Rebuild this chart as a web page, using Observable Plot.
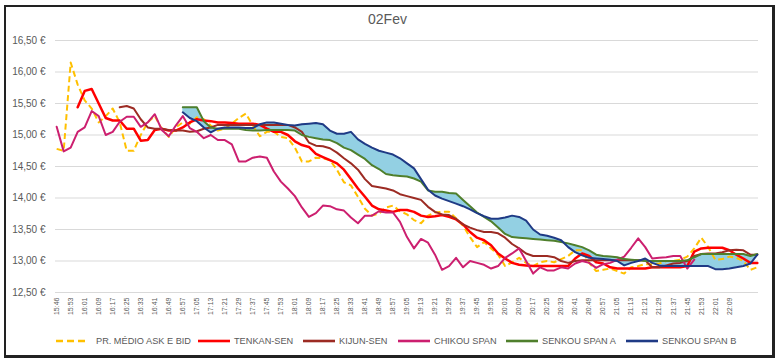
<!DOCTYPE html>
<html>
<head>
<meta charset="utf-8">
<script src="https://cdn.jsdelivr.net/npm/d3@7"></script>
<script src="https://cdn.jsdelivr.net/npm/@observablehq/plot@0.6"></script>
<style>
  body { margin: 0; background: #fff; font-family: "Liberation Sans", Arial, sans-serif; }
  #wrap { position: relative; width: 781px; height: 362px; overflow: hidden; background: #fff; }
  #frame { position: absolute; left: 4px; top: 5px; width: 766px; height: 348px;
           border: 2px solid #222; border-right-width: 3px; border-bottom-width: 3px; }
  #title { position: absolute; top: 11px; left: 0; width: 775px; text-align: center;
           font-size: 14px; color: #595959; }
  #chart { position: absolute; left: 0; top: 0; }
  .leg { position: absolute; top: 335px; height: 12px; display: flex; align-items: center;
         font-size: 9.2px; color: #595959; white-space: nowrap; }
  .leg svg { margin-right: 3px; }
</style>
</head>
<body>
<div id="wrap">
  <div id="frame"></div>
  <div id="title">02Fev</div>
  <div id="chart"></div>
  <div id="legend"></div>
</div>
<script>
// ---- data (sampled every 3 categories) ----
const timeLabels = ["15:46","15:53","16:01","16:09","16:17","16:25","16:33","16:41","16:49","16:57",
  "17:05","17:13","17:21","17:29","17:37","17:45","17:53","18:01","18:09","18:17",
  "18:25","18:33","18:41","18:49","18:57","19:05","19:13","19:21","19:29","19:37",
  "19:45","19:53","20:01","20:09","20:17","20:25","20:33","20:41","20:49","20:57",
  "21:05","21:13","21:21","21:29","21:37","21:45","21:53","22:01","22:09"];
const labelEvery = 6;        // one time label every 6 categories
const sampleEvery = 3;       // values below read every 3 categories
const yTicks = [12.5, 13, 13.5, 14, 14.5, 15, 15.5, 16, 16.5];

const price = [14.78,14.75,16.15,15.8,15.55,15.42,15.2,15.3,15.42,15.2,
  14.75,14.75,15.0,15.2,15.3,15.1,14.97,15.12,15.2,15.18,
  15.28,15.25,15.15,15.07,15.1,15.18,15.27,15.34,15.15,14.98,
  15.05,15.05,14.97,14.95,14.8,14.58,14.58,14.64,14.63,14.6,
  14.45,14.25,14.2,14.02,13.83,13.72,13.75,13.85,13.88,13.79,
  13.74,13.65,13.6,13.72,13.77,13.78,13.78,13.68,13.56,13.38,
  13.22,13.3,13.2,13.1,12.92,12.98,13.05,12.97,12.92,12.98,
  13.0,12.98,13.03,13.08,13.17,13.17,12.97,12.84,12.86,12.88,
  12.84,12.8,12.9,12.92,12.95,12.95,12.96,13.0,13.0,13.02,
  13.07,13.2,13.37,13.22,13.02,13.03,13.07,13.05,13.0,12.86,12.9];

const tenkan = [null,null,null,15.44,15.7,15.73,15.5,15.27,15.23,15.23,
  15.1,15.1,14.91,14.92,15.08,15.1,15.07,15.07,15.12,15.2,
  15.25,15.23,15.22,15.2,15.2,15.19,15.18,15.18,15.18,15.16,
  15.1,15.05,15.05,15.0,14.9,14.84,14.81,14.7,14.65,14.6,
  14.55,14.45,14.3,14.15,14.02,13.88,13.82,13.8,13.78,13.81,
  13.81,13.78,13.72,13.7,13.71,13.73,13.7,13.66,13.58,13.46,
  13.37,13.33,13.25,13.12,13.04,12.97,12.94,12.93,12.92,12.92,
  12.92,12.92,12.92,12.92,13.04,13.12,13.08,12.98,12.96,12.9,
  12.88,12.88,12.88,12.88,12.88,12.9,12.9,12.9,12.9,12.9,
  12.92,13.15,13.2,13.21,13.21,13.21,13.17,13.1,13.04,12.97,12.97];

const kijun = [null,null,null,null,null,null,null,null,null,15.44,
  15.46,15.42,15.25,15.12,15.1,15.1,15.08,15.07,15.07,15.05,
  15.06,15.1,15.12,15.16,15.16,15.16,15.16,15.16,15.16,15.16,
  15.16,15.16,15.16,15.16,15.12,15.05,14.88,14.83,14.82,14.79,
  14.72,14.63,14.55,14.45,14.3,14.19,14.17,14.15,14.12,14.06,
  14.03,14.0,13.97,13.86,13.78,13.74,13.73,13.67,13.58,13.53,
  13.49,13.46,13.46,13.44,13.37,13.27,13.2,13.12,13.08,13.08,
  13.08,13.06,13.0,12.97,13.0,13.01,13.01,13.01,13.01,13.01,
  13.01,13.01,13.01,13.01,13.01,12.9,12.9,12.93,12.96,12.97,
  13.0,13.08,13.11,13.12,13.12,13.14,13.17,13.18,13.17,13.1,13.1];

const chikou = [15.13,14.74,14.8,15.05,15.12,15.38,15.3,15.0,15.05,15.21,
  15.29,15.29,15.13,15.2,15.33,15.08,14.98,15.15,15.3,15.11,
  15.05,14.95,15.0,14.92,14.92,14.85,14.58,14.58,14.64,14.66,
  14.64,14.42,14.26,14.15,14.03,13.85,13.7,13.76,13.88,13.87,
  13.82,13.8,13.69,13.6,13.72,13.72,13.79,13.77,13.77,13.62,
  13.38,13.2,13.35,13.29,13.1,12.86,12.92,13.05,12.9,13.0,
  12.97,12.94,12.88,12.92,13.05,13.12,13.2,13.0,12.8,12.9,
  12.85,12.85,12.9,12.88,12.96,13.0,12.97,12.89,12.95,12.97,
  13.02,13.07,13.21,13.36,13.22,13.04,13.05,13.06,13.08,13.08,
  12.88,13.02,null,null,null,null,null,null,null,null,null];

const senkouA = [null,null,null,null,null,null,null,null,null,null,
  null,null,null,null,null,null,null,null,15.44,15.44,
  15.44,15.22,15.12,15.1,15.1,15.1,15.1,15.08,15.07,15.07,
  15.08,15.08,15.08,15.08,15.07,15.0,14.97,14.95,14.93,14.92,
  14.87,14.8,14.76,14.69,14.62,14.52,14.46,14.38,14.36,14.35,
  14.34,14.31,14.26,14.12,14.1,14.1,14.08,14.07,13.97,13.87,
  13.77,13.7,13.63,13.53,13.43,13.38,13.37,13.36,13.35,13.34,
  13.33,13.32,13.3,13.28,13.25,13.22,13.17,13.1,13.08,13.07,
  13.06,13.03,13.02,13.01,13.0,13.0,13.0,13.0,13.0,13.0,
  13.01,13.06,13.11,13.11,13.11,13.11,13.11,13.11,13.11,13.08,13.11];

const senkouB = [null,null,null,null,null,null,null,null,null,null,
  null,null,null,null,null,null,null,null,15.36,15.27,
  15.22,15.12,15.04,15.1,15.12,15.12,15.12,15.11,15.11,15.17,
  15.2,15.2,15.18,15.16,15.15,15.17,15.18,15.19,15.17,15.07,
  15.02,15.02,15.05,14.93,14.86,14.8,14.75,14.72,14.69,14.63,
  14.55,14.47,14.3,14.13,14.04,13.99,13.95,13.91,13.87,13.82,
  13.76,13.71,13.67,13.67,13.69,13.72,13.7,13.64,13.5,13.42,
  13.4,13.37,13.33,13.22,13.14,13.09,13.05,13.04,13.03,13.02,
  13.0,12.93,12.97,13.0,13.04,12.97,12.93,12.92,12.92,12.92,
  12.92,12.92,12.92,12.92,12.87,12.87,12.88,12.9,12.92,12.96,13.1];

const series = [
  {name: "PR. MÉDIO ASK E BID", values: price,   color: "#FFC000", width: 2,   dash: "6,3.5"},
  {name: "TENKAN-SEN",          values: tenkan,  color: "#FF0000", width: 2.5, dash: null},
  {name: "KIJUN-SEN",           values: kijun,   color: "#9C2B23", width: 2,   dash: null},
  {name: "CHIKOU SPAN",         values: chikou,  color: "#CC1F6F", width: 2,   dash: null},
  {name: "SENKOU SPAN A",       values: senkouA, color: "#4F7F2C", width: 2,   dash: null},
  {name: "SENKOU SPAN B",       values: senkouB, color: "#1F3A85", width: 2,   dash: null}
];
const cloudFill = "#93D0E3";

// ---- build tables ----
const rows = price.map((_, k) => ({
  i: k * sampleEvery, price: price[k], tenkan: tenkan[k], kijun: kijun[k],
  chikou: chikou[k], a: senkouA[k], b: senkouB[k]
}));
const cloud = rows.filter(d => d.a != null && d.b != null);
const ticks = timeLabels.map((t, j) => ({i: j * labelEvery, t}));
const fmtY = v => v.toFixed(2).replace(".", ",") + " €";

const lineMarks = series.map(s => Plot.line(
  s.values.map((v, k) => ({i: k * sampleEvery, v})),
  {x: "i", y: "v", stroke: s.color, strokeWidth: s.width,
   strokeDasharray: s.dash || undefined, strokeLinecap: s.dash ? "butt" : "round",
   strokeLinejoin: "round"}
));

const chart = Plot.plot({
  width: 781, height: 330,
  marginLeft: 55, marginRight: 23, marginTop: 40, marginBottom: 38,
  x: {domain: [-0.5, 300.5], axis: null},
  y: {domain: [12.5, 16.5], axis: null},
  style: {background: "transparent", overflow: "visible", fontFamily: "'Liberation Sans', Arial, sans-serif"},
  marks: [
    Plot.ruleY(yTicks, {stroke: "#d9d9d9", strokeWidth: 1}),
    Plot.text(yTicks, {y: d => d, frameAnchor: "left", dx: -10, textAnchor: "end",
      text: fmtY, fontSize: 10, fill: "#595959"}),
    Plot.text(ticks, {x: "i", frameAnchor: "bottom", dy: 5, rotate: -90,
      textAnchor: "end", lineAnchor: "middle", text: "t", fontSize: 7, fill: "#595959"}),
    Plot.areaY(cloud, {x: "i", y1: "a", y2: "b", fill: cloudFill}),
    ...lineMarks
  ]
});
document.getElementById("chart").appendChild(chart);

// ---- legend ----
const legLeft = [55, 197, 302, 397, 505, 625];
const legend = document.getElementById("legend");
series.forEach((s, j) => {
  const item = document.createElement("div");
  item.className = "leg";
  item.style.left = legLeft[j] + "px";
  const w = j === 0 ? 34 : 34;
  item.innerHTML = `<svg width="${w}" height="8"><line x1="1" y1="4" x2="${w-1}" y2="4" stroke="${s.color}" stroke-width="2.6" ${s.dash ? `stroke-dasharray="7,4"` : ""}/></svg><span${j===0?' style="margin-left:4px"':''}>${s.name}</span>`;
  legend.appendChild(item);
});
</script>
</body>
</html>
